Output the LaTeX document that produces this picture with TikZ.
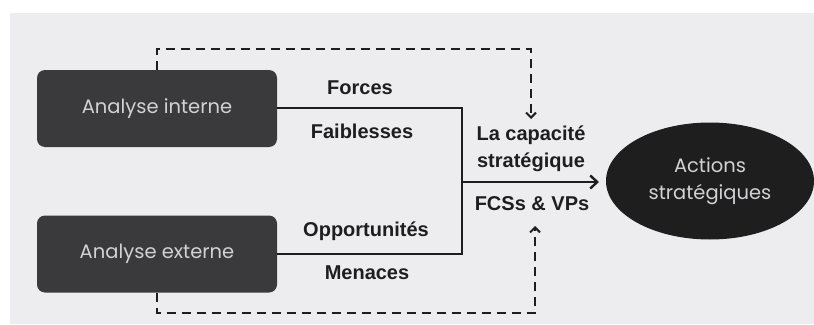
\documentclass[tikz,border=0pt]{standalone}
\usepackage{fontspec}
\usetikzlibrary{arrows.meta,shapes.geometric}
\newfontfamily\boxfont{Poppins}
\newfontfamily\labelfont{Liberation Sans}
\definecolor{paper}{HTML}{EDEDEF}
\definecolor{boxfill}{HTML}{3A3A3C}
\definecolor{boxtext}{HTML}{D2D2D4}
\definecolor{ink}{HTML}{1E1E1E}
\tikzset{
  analysis/.style={rectangle, rounded corners=8pt, fill=boxfill,
    minimum width=240pt, minimum height=77pt, inner sep=0pt,
    text=boxtext, font=\boxfont\fontsize{19.5}{22}\selectfont},
  goal/.style={ellipse, fill=ink, minimum width=208pt, minimum height=117pt,
    inner sep=0pt, text=boxtext, align=center,
    font=\boxfont\fontsize{19.5}{27}\selectfont},
  tag/.style={text=ink, inner sep=0pt, font=\labelfont\bfseries\fontsize{20}{24}\selectfont},
  link/.style={draw=ink, line width=2.4pt},
  feedback/.style={draw=ink, line width=2.8pt, dash pattern=on 9pt off 6pt},
}
\begin{document}
\begin{tikzpicture}[x=1pt, y=-1pt]
  % page and paper background
  \fill[white] (0,0) rectangle (814,324);
  \fill[paper] (10,13) rectangle (814,324);
  \useasboundingbox (0,0) rectangle (814,324);

  % boxes
  \node[analysis] (ai) at (157,108.5) {Analyse interne};
  \node[analysis] (ae) at (157,254) {Analyse externe};
  \node[goal] (act) at (710,181) {Actions\\stratégiques};

  % junction points
  \coordinate (j1) at (462,108);
  \coordinate (j2) at (462,254);
  \coordinate (jm) at (462,182);
  \coordinate (tip) at (599,182);
  \coordinate (topc) at (531,49);
  \coordinate (topend) at (531,119);
  \coordinate (botc) at (535,313);
  \coordinate (botend) at (535,226);

  % solid connectors
  \draw[link] (ai.east |- j1) -- (j1) -- (j2) -- (ae.east |- j2);
  \draw[link, -{Straight Barb[length=7pt, width=13pt, line width=2.4pt]}] (jm) -- (tip);

  % dashed feedback loops
  \draw[feedback, -{Straight Barb[length=5pt, width=10pt, line width=2pt]}]
    (ai.north) |- (topc) -- (topend);
  \draw[feedback, -{Straight Barb[length=5pt, width=10pt, line width=2pt]}]
    (ae.south) |- (botc) -- (botend);

  % labels
  \node[tag] (lf) at (360,88) {Forces};
  \node[tag] (lw) at (362,131) {Faiblesses};
  \node[tag] (lo) at (366,231) {Opportunités};
  \node[tag] (lm) at (367,273) {Menaces};
  \node[tag, align=center, font=\labelfont\bfseries\fontsize{20}{27}\selectfont] (lc) at (531,149) {La capacité\\stratégique};
  \node[tag] (lk) at (532,204) {FCSs \& VPs};
\end{tikzpicture}
\end{document}
